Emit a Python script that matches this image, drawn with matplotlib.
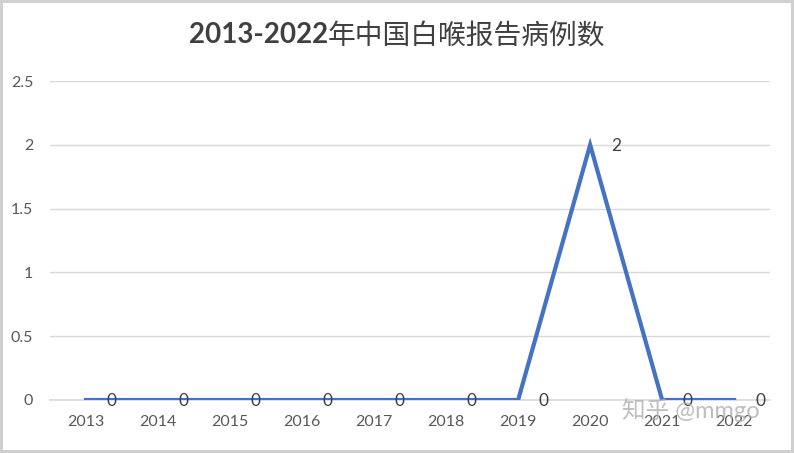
import matplotlib.pyplot as plt
from matplotlib.ticker import FuncFormatter

plt.rcParams['font.family'] = ['Lato', 'Noto Sans CJK SC', 'DejaVu Sans']

years = ["2013", "2014", "2015", "2016", "2017", "2018", "2019", "2020", "2021", "2022"]
cases = [0, 0, 0, 0, 0, 0, 0, 2, 0, 0]
y_ticks = [0, 0.5, 1, 1.5, 2, 2.5]
title_num = "2013-2022"
title_cn = "年中国白喉报告病例数"

text_col = '#595959'
grid_col = '#D9D9D9'
line_col = '#4472C4'


def fmt(v, pos):
    return ('%g' % v)


def run():
    fig = plt.figure(figsize=(7.94, 4.53), dpi=100)
    fig.patch.set_edgecolor('#D0D0D0')
    fig.patch.set_linewidth(3)
    ax = fig.add_axes([0.063, 0.117, 0.907, 0.704])

    xs = list(range(len(years)))
    ax.plot(xs, cases, color=line_col, linewidth=3, solid_joinstyle='miter', zorder=3)

    for x, v in zip(xs, cases):
        ax.annotate(str(v), (x, v), xytext=(15, -1), textcoords='offset points',
                    ha='left', va='center', fontsize=12.5, color='#404040', zorder=4)

    ax.set_xlim(-0.5, len(years) - 0.5)
    ax.set_ylim(0, 2.5)
    ax.set_yticks(y_ticks)
    ax.yaxis.set_major_formatter(FuncFormatter(fmt))
    ax.set_xticks(xs)
    ax.set_xticklabels(years)
    ax.grid(axis='y', color=grid_col, linewidth=1)
    ax.set_axisbelow(True)
    for s in ['top', 'right', 'left']:
        ax.spines[s].set_visible(False)
    ax.spines['bottom'].set_color(grid_col)
    ax.spines['bottom'].set_linewidth(1.2)
    ax.tick_params(axis='both', length=0, labelsize=11.5, colors=text_col)
    ax.tick_params(axis='x', pad=11)
    ax.tick_params(axis='y', pad=12)

    # title: bold digits, regular chinese, centred together
    t1 = fig.text(0, 0.922, title_num, ha='left', va='center', fontsize=20,
                  fontweight='bold', color='#404040')
    t2 = fig.text(0, 0.922, title_cn, ha='left', va='center', fontsize=20,
                  color='#404040', family=['Noto Sans CJK SC', 'DejaVu Sans'])
    r = fig.canvas.get_renderer()
    w1 = t1.get_window_extent(r).width / fig.bbox.width
    w2 = t2.get_window_extent(r).width / fig.bbox.width
    x0 = 0.5 - (w1 + w2) / 2
    t1.set_x(x0)
    t2.set_x(x0 + w1)

    # zhihu watermark
    fig.text(0.87, 0.095, "知乎 @mmgo", ha='center', va='center', fontsize=17,
             color='#B0B0B0', alpha=0.8, zorder=10)

    fig.savefig('out.png', dpi=100, edgecolor=fig.get_edgecolor())


run()
